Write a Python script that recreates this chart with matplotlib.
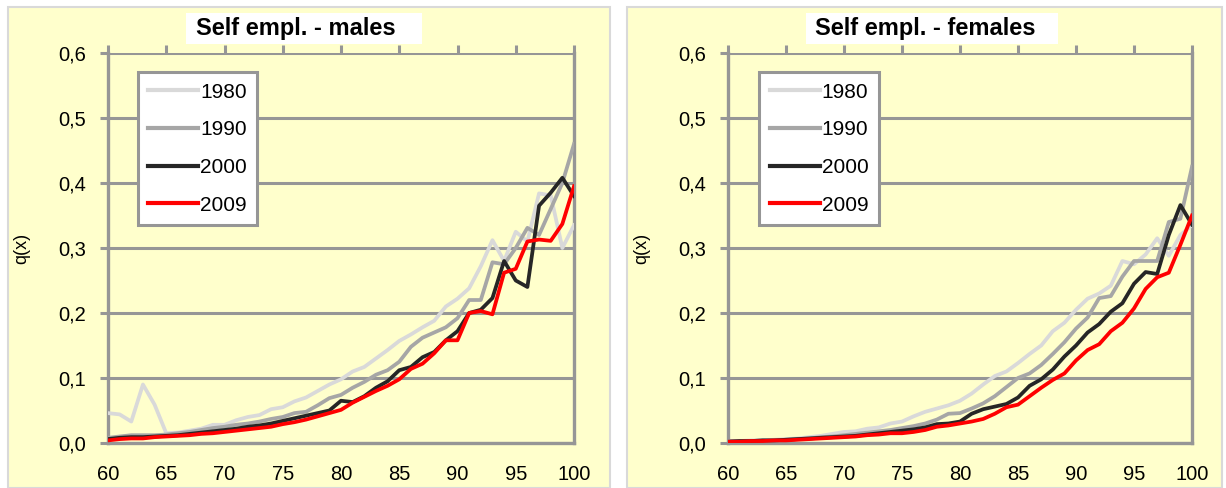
import matplotlib
matplotlib.use("Agg")
import matplotlib.pyplot as plt
from matplotlib.patches import Rectangle
from matplotlib.ticker import FuncFormatter

plt.rcParams['font.family'] = ['Liberation Sans', 'DejaVu Sans']

ages = list(range(60, 101))
years = ["1980", "1990", "2000", "2009"]
colors = ["#D9D9D9", "#A6A6A6", "#262626", "#FF0000"]

# males
m_1980 = [0.046, 0.044, 0.033, 0.090, 0.059, 0.015, 0.016, 0.019, 0.022, 0.028,
          0.028, 0.035, 0.040, 0.043, 0.052, 0.055, 0.064, 0.070, 0.080, 0.090,
          0.098, 0.110, 0.117, 0.130, 0.143, 0.157, 0.167, 0.178, 0.188, 0.210,
          0.222, 0.238, 0.272, 0.312, 0.280, 0.325, 0.310, 0.384, 0.381, 0.300,
          0.335]
m_1990 = [0.008, 0.010, 0.012, 0.012, 0.012, 0.013, 0.015, 0.017, 0.020, 0.023,
          0.025, 0.028, 0.030, 0.033, 0.037, 0.040, 0.046, 0.048, 0.058, 0.069,
          0.074, 0.085, 0.094, 0.105, 0.112, 0.125, 0.148, 0.162, 0.170, 0.178,
          0.192, 0.220, 0.220, 0.278, 0.275, 0.300, 0.331, 0.320, 0.360, 0.400,
          0.460]
m_2000 = [0.006, 0.008, 0.009, 0.009, 0.010, 0.011, 0.012, 0.014, 0.016, 0.018,
          0.020, 0.022, 0.025, 0.027, 0.030, 0.034, 0.038, 0.042, 0.046, 0.050,
          0.065, 0.063, 0.072, 0.085, 0.095, 0.112, 0.117, 0.132, 0.140, 0.158,
          0.172, 0.200, 0.205, 0.223, 0.280, 0.250, 0.240, 0.365, 0.385, 0.408,
          0.380]
m_2009 = [0.004, 0.006, 0.007, 0.007, 0.009, 0.010, 0.011, 0.012, 0.014, 0.015,
          0.017, 0.019, 0.021, 0.023, 0.025, 0.029, 0.032, 0.036, 0.041, 0.046,
          0.051, 0.062, 0.071, 0.080, 0.088, 0.098, 0.114, 0.122, 0.138, 0.158,
          0.158, 0.200, 0.203, 0.198, 0.262, 0.268, 0.310, 0.313, 0.311, 0.337,
          0.395]

# females
f_1980 = [0.003, 0.003, 0.004, 0.004, 0.005, 0.006, 0.007, 0.009, 0.011, 0.014,
          0.017, 0.018, 0.022, 0.024, 0.030, 0.033, 0.041, 0.048, 0.053, 0.058,
          0.065, 0.076, 0.090, 0.103, 0.110, 0.123, 0.137, 0.150, 0.172, 0.185,
          0.205, 0.222, 0.230, 0.242, 0.280, 0.275, 0.290, 0.315, 0.288, 0.320,
          0.335]
f_1990 = [0.003, 0.003, 0.003, 0.004, 0.004, 0.005, 0.006, 0.007, 0.009, 0.010,
          0.012, 0.014, 0.016, 0.018, 0.020, 0.023, 0.026, 0.030, 0.036, 0.045,
          0.046, 0.053, 0.061, 0.072, 0.086, 0.100, 0.107, 0.120, 0.137, 0.155,
          0.176, 0.193, 0.223, 0.226, 0.256, 0.280, 0.280, 0.280, 0.340, 0.345,
          0.425]
f_2000 = [0.002, 0.003, 0.003, 0.004, 0.004, 0.005, 0.006, 0.007, 0.008, 0.009,
          0.010, 0.011, 0.013, 0.015, 0.017, 0.019, 0.021, 0.024, 0.029, 0.030,
          0.033, 0.045, 0.052, 0.056, 0.060, 0.070, 0.088, 0.098, 0.113, 0.133,
          0.150, 0.170, 0.183, 0.202, 0.215, 0.245, 0.263, 0.260, 0.320, 0.366,
          0.336]
f_2009 = [0.002, 0.002, 0.003, 0.003, 0.004, 0.004, 0.005, 0.006, 0.007, 0.008,
          0.009, 0.010, 0.012, 0.013, 0.015, 0.015, 0.017, 0.020, 0.025, 0.027,
          0.030, 0.033, 0.037, 0.045, 0.055, 0.059, 0.072, 0.085, 0.097, 0.107,
          0.127, 0.143, 0.152, 0.172, 0.185, 0.207, 0.237, 0.255, 0.262, 0.305,
          0.350]

grey = "#969696"
W, H = 1226, 488
fig = plt.figure(figsize=(W / 100, H / 100), dpi=100)

# yellow panels
for x0, x1 in [(8, 610), (627, 1222)]:
    fig.patches.append(Rectangle((x0 / W, 0), (x1 - x0) / W, (H - 7) / H,
                                 transform=fig.transFigure, facecolor="#FFFFCC",
                                 edgecolor="#D9D9D9", linewidth=1.5, zorder=-2))


def draw_panel(ax_left, ax_right, series, title, box, text_x, ylab_x, leg_x):
    ax = fig.add_axes([ax_left / W, (H - 443) / H, (ax_right - ax_left) / W, 390 / H])
    ax.set_zorder(2)
    ax.set_facecolor("none")
    for vals, yr, c in zip(series, years, colors):
        ax.plot(ages, vals, color=c, lw=2.7, label=yr, zorder=3)
    ax.set_xlim(60, 100)
    ax.set_ylim(0, 0.6)
    ax.set_xticks(range(60, 101, 5))
    ax.set_yticks([0, 0.1, 0.2, 0.3, 0.4, 0.5, 0.6])
    ax.yaxis.set_major_formatter(FuncFormatter(lambda v, p: f"{v:.1f}".replace(".", ",")))
    ax.grid(axis="y", color=grey, lw=2.2, zorder=1)
    for s in ["left", "right", "bottom"]:
        ax.spines[s].set_color(grey)
        ax.spines[s].set_linewidth(2.4)
    ax.spines["top"].set_visible(False)
    ax.tick_params(axis="x", which="both", bottom=False, top=True, direction="out",
                   length=6, width=2.2, color=grey, labelsize=14.5, pad=10, labeltop=False)
    ax.tick_params(axis="y", length=6, width=2.2, color=grey, labelsize=14.5, pad=10)
    ax.set_ylabel("q(x)", fontsize=13)
    ax.yaxis.set_label_coords((ylab_x - ax_left) / (ax_right - ax_left), 0.5)
    leg = ax.legend(loc="upper left", bbox_to_anchor=(leg_x, 0.951), fontsize=15,
                    handlelength=2.4, handletextpad=0.1, labelspacing=0.9,
                    borderpad=0.5, borderaxespad=0, fancybox=False, framealpha=1)
    leg.get_frame().set_edgecolor(grey)
    leg.get_frame().set_linewidth(2.2)
    for ln in leg.get_lines():
        ln.set_linewidth(3)
    # title in a white box
    fig.patches.append(Rectangle((box[0] / W, (H - 44) / H), (box[1] - box[0]) / W, 31 / H,
                                 transform=fig.transFigure, facecolor="white",
                                 edgecolor="none", zorder=-1))
    fig.text(text_x / W, (H - 29) / H, title, fontsize=17, fontweight="bold",
             ha="left", va="center", zorder=3)
    return ax


draw_panel(108, 574, [m_1980, m_1990, m_2000, m_2009], "Self empl. - males",
           (186, 422), 196, 30, 0.064)
draw_panel(728, 1192, [f_1980, f_1990, f_2000, f_2009], "Self empl. - females",
           (806, 1058), 815, 650, 0.067)

fig.savefig("out.png", dpi=100)
